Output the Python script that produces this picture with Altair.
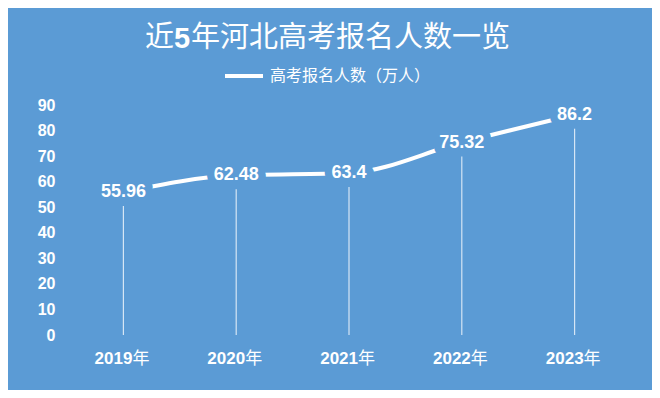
import altair as alt
import pandas as pd

years = ["2019", "2020", "2021", "2022", "2023"]
values = [55.96, 62.48, 63.4, 75.32, 86.2]
labels = ["55.96", "62.48", "63.4", "75.32", "86.2"]
y_ticks = [0, 10, 20, 30, 40, 50, 60, 70, 80, 90]
title_parts = ["近", "5", "年河北高考报名人数一览"]
legend_label = "高考报名人数（万人）"
year_suffix = "年"

BG = "#5B9BD5"
WHITE = "#FFFFFF"
NUM_FONT = "Liberation Sans"
CJK_FONT = "Noto Sans CJK SC"

df = pd.DataFrame({"year": years, "value": values, "label": labels, "zero": [0] * len(years)})
df["suffix"] = year_suffix

x_enc = alt.X("year:N", sort=None, scale=alt.Scale(type="point", padding=0.5), axis=None)
y_enc = alt.Y(
    "value:Q",
    scale=alt.Scale(domain=[0, 90], nice=False, zero=True),
    axis=alt.Axis(
        values=y_ticks, title=None, domain=False, ticks=False, grid=False,
        labelColor=WHITE, labelFont=NUM_FONT, labelFontSize=16, labelFontWeight="bold",
        labelPadding=12,
    ),
)

base = alt.Chart(df)

drops = base.mark_rule(color=WHITE, strokeWidth=1.2, opacity=0.75, yOffset=14).encode(
    x=x_enc, y=y_enc, y2=alt.Y2("zero:Q")
)

line = base.mark_line(color=WHITE, strokeWidth=4, interpolate="monotone", strokeCap="butt").encode(
    x=x_enc, y=y_enc
)

halo = base.mark_text(
    font=NUM_FONT, fontSize=18, fontWeight="bold", color=BG, stroke=BG,
    strokeWidth=15, strokeJoin="round", baseline="middle", align="center",
).encode(x=x_enc, y=y_enc, text="label:N")

text = base.mark_text(
    font=NUM_FONT, fontSize=18, fontWeight="bold", color=WHITE,
    baseline="middle", align="center",
).encode(x=x_enc, y=y_enc, text="label:N")

xlab_num = base.mark_text(
    font=NUM_FONT, fontSize=17, fontWeight="bold", color=WHITE,
    baseline="middle", align="right", xOffset=9,
).encode(x=x_enc, y=alt.value(254), text="year:N")

xlab_suf = base.mark_text(
    font=CJK_FONT, fontSize=17, color=WHITE,
    baseline="middle", align="left", xOffset=9,
).encode(x=x_enc, y=alt.value(254), text="suffix:N")

one = pd.DataFrame({"k": [0]})
t1 = alt.Chart(one).mark_text(font=CJK_FONT, fontSize=29, color=WHITE, align="left", baseline="middle").encode(
    x=alt.value(78), y=alt.value(-67), text=alt.value(title_parts[0]))
t2 = alt.Chart(one).mark_text(font=NUM_FONT, fontSize=29, fontWeight="bold", color=WHITE, align="left", baseline="middle").encode(
    x=alt.value(107), y=alt.value(-66), text=alt.value(title_parts[1]))
t3 = alt.Chart(one).mark_text(font=CJK_FONT, fontSize=29, color=WHITE, align="left", baseline="middle").encode(
    x=alt.value(124), y=alt.value(-67), text=alt.value(title_parts[2]))

leg_line = alt.Chart(one).mark_rule(color=WHITE, strokeWidth=4).encode(
    x=alt.value(158), x2=alt.value(196), y=alt.value(-29))
leg_text = alt.Chart(one).mark_text(font=CJK_FONT, fontSize=16, color=WHITE, align="left", baseline="middle").encode(
    x=alt.value(203), y=alt.value(-29), text=alt.value(legend_label))

chart = alt.layer(
    drops, line, halo, text, xlab_num, xlab_suf, t1, t2, t3, leg_line, leg_text
).properties(
    width=564, height=230,
    padding={"left": 59, "top": 97, "right": 21, "bottom": 55},
    autosize=alt.AutoSizeParams(type="none"),
    background=BG,
).configure_view(stroke=None)

chart.save("out.html", embed_options={"renderer": "svg", "actions": False})
